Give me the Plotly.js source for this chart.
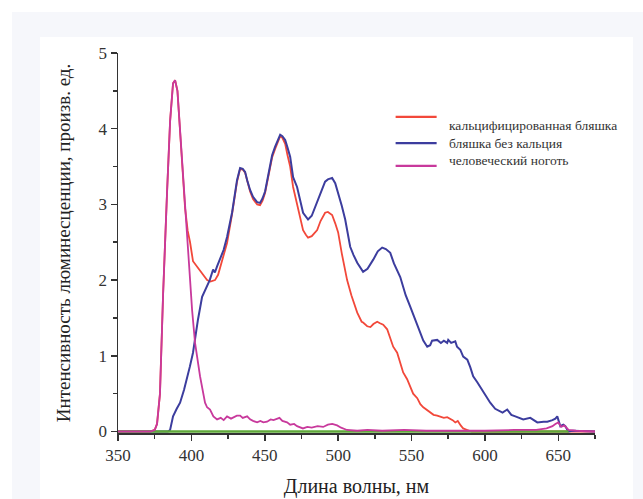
<!DOCTYPE html>
<html>
<head>
<meta charset="utf-8">
<script src="https://cdn.plot.ly/plotly-3.0.1.min.js"></script>
<style>
  html, body { margin: 0; padding: 0; background: #ffffff; }
  #frame { position: absolute; left: 12px; top: 12px; width: 631px; height: 487px; background: #f6f7fb; }
  #panel { position: absolute; left: 40px; top: 37px; width: 593px; height: 462px; background: #ffffff; }
  #chart { position: absolute; left: 0; top: 0; width: 643px; height: 499px; }
</style>
</head>
<body>
<div id="frame"></div>
<div id="panel"></div>
<div id="chart"></div>
<script>
// Luminescence spectra: wavelength (nm) and intensity (arb. units)
const calcWl = [350, 372, 375, 376.6, 378.6, 380.7, 383.4, 385.5, 387.5, 388.9, 390.5, 393.6, 395.7, 397.5, 399.1, 401.1, 403, 405.9, 408, 410.7, 413, 416.1, 418.2, 420.9, 424.3, 427.7, 431.1, 433.2, 435, 436.6, 438, 440, 442, 444.8, 446.8, 448.5, 450.2, 452, 453.6, 455, 457, 459, 460.5, 462, 463.9, 465.5, 467.3, 469.3, 472, 474, 476.1, 478, 479.5, 482, 485.7, 488, 491.1, 493, 495.9, 498, 500, 502.5, 506.1, 509, 513, 516, 517, 519.8, 522, 524, 526.6, 528.5, 530.7, 533.4, 537.5, 540.2, 544.3, 547, 551.1, 553.9, 556, 558, 560.7, 563, 565, 567.5, 569.5, 572, 574.3, 576.4, 578, 579.8, 581.5, 583.5, 585.2, 588, 591, 675];
const calcVal = [0, 0, 0.02, 0.1, 0.5, 1.8, 3.15, 4.1, 4.6, 4.64, 4.5, 3.6, 2.95, 2.65, 2.5, 2.25, 2.2, 2.14, 2.08, 2.0, 1.98, 2.0, 2.07, 2.27, 2.49, 2.87, 3.3, 3.47, 3.46, 3.42, 3.3, 3.17, 3.07, 3.0, 2.99, 3.05, 3.15, 3.33, 3.52, 3.62, 3.73, 3.84, 3.9, 3.88, 3.8, 3.65, 3.5, 3.23, 3.0, 2.8, 2.66, 2.6, 2.56, 2.58, 2.66, 2.78, 2.89, 2.9, 2.86, 2.75, 2.63, 2.35, 2.0, 1.8, 1.57, 1.45, 1.44, 1.39, 1.38, 1.42, 1.45, 1.43, 1.41, 1.35, 1.12, 1.04, 0.78, 0.69, 0.5, 0.44, 0.36, 0.32, 0.28, 0.24, 0.22, 0.21, 0.2, 0.18, 0.19, 0.17, 0.15, 0.12, 0.14, 0.08, 0.04, 0.02, 0, 0];

const plaqueWl = [350, 380, 384, 385.5, 387.5, 390, 392.3, 395, 397, 399, 401.1, 403, 404.5, 407.3, 410.7, 412.5, 414.8, 416, 417.5, 419.5, 422, 424.3, 427.7, 431.1, 433.2, 435, 436.6, 438, 440, 442, 444.8, 446.8, 448.5, 450.2, 452, 453.6, 455, 457, 459, 460.5, 462, 463.9, 465.5, 467.3, 469.3, 472, 476.1, 479.5, 482, 486.4, 489, 491.1, 493, 495.9, 498, 500, 502.5, 504.8, 508.2, 510.5, 513, 517, 520, 523.9, 527, 530, 532.5, 535.5, 538, 542.3, 546, 549.1, 552, 555.9, 558, 560.7, 562.7, 564, 567.5, 570, 572, 574.3, 575, 577, 579.8, 581, 583.2, 585.2, 588, 590, 592, 594.8, 596.8, 600, 603.6, 607, 610.4, 612, 615.2, 618, 620.7, 624, 626.1, 630.9, 633, 635.7, 640, 642.5, 646, 648, 649.3, 651.4, 653.4, 654.8, 656.8, 660, 675];
const plaqueVal = [0, 0, 0, 0.02, 0.2, 0.3, 0.38, 0.55, 0.69, 0.86, 1.04, 1.3, 1.48, 1.78, 1.94, 2.0, 2.14, 2.1, 2.18, 2.27, 2.4, 2.57, 2.89, 3.32, 3.48, 3.47, 3.43, 3.32, 3.19, 3.1, 3.03, 3.02, 3.08, 3.17, 3.35, 3.55, 3.65, 3.76, 3.86, 3.92, 3.9, 3.85, 3.75, 3.63, 3.36, 3.23, 2.89, 2.8, 2.85, 3.06, 3.2, 3.3, 3.33, 3.35, 3.28, 3.15, 2.98, 2.8, 2.44, 2.33, 2.23, 2.11, 2.15, 2.27, 2.38, 2.43, 2.41, 2.36, 2.22, 2.04, 1.8, 1.65, 1.5, 1.31, 1.2, 1.12, 1.14, 1.2, 1.21, 1.17, 1.2, 1.17, 1.21, 1.17, 1.19, 1.12, 1.08, 0.99, 0.95, 0.85, 0.73, 0.65, 0.59, 0.5, 0.38, 0.3, 0.26, 0.25, 0.29, 0.22, 0.2, 0.17, 0.16, 0.18, 0.15, 0.12, 0.13, 0.13, 0.15, 0.17, 0.2, 0.07, 0.09, 0.07, 0.0, 0.01, 0];

const nailWl = [350, 372, 375, 376.6, 378.6, 380.7, 383.4, 385.5, 387.5, 388.9, 390.5, 393.6, 395.7, 397.7, 400.5, 402.5, 405.9, 409.3, 410.7, 412.7, 415, 417.5, 420, 422, 424.3, 427, 431, 433.2, 435, 438, 440, 442, 444.8, 447, 449, 451.6, 454, 456, 458.4, 460, 462, 465.2, 467.3, 470, 472, 476, 479, 482, 486, 489.8, 493, 496, 499.3, 502, 506, 513, 520, 530, 545, 560, 580, 600, 620, 635, 642, 646, 648, 650, 652, 654, 657, 662, 675];
const nailVal = [0, 0, 0.02, 0.1, 0.5, 1.8, 3.15, 4.1, 4.6, 4.64, 4.5, 3.6, 2.93, 2.27, 1.6, 1.17, 0.73, 0.38, 0.32, 0.29, 0.2, 0.16, 0.18, 0.15, 0.2, 0.17, 0.21, 0.21, 0.18, 0.2, 0.16, 0.14, 0.12, 0.14, 0.12, 0.13, 0.16, 0.15, 0.17, 0.18, 0.14, 0.12, 0.09, 0.1, 0.07, 0.04, 0.06, 0.05, 0.07, 0.06, 0.09, 0.1, 0.08, 0.05, 0.02, 0.01, 0.02, 0.01, 0.02, 0.01, 0.01, 0.01, 0.02, 0.02, 0.04, 0.07, 0.1, 0.12, 0.06, 0.08, 0.02, 0.01, 0];

// zero baseline
const baseWl = [350, 657];
const baseVal = [0, 0];

const seriesNames = ['кальцифицированная бляшка', 'бляшка без кальция', 'человеческий ноготь'];
const seriesColors = ['#f2483a', '#3c3d9e', '#c8399c'];
const xTicks = [350, 400, 450, 500, 550, 600, 650];
const yTicks = [0, 1, 2, 3, 4, 5];

const serif = 'Liberation Serif';

const traces = [
  { x: calcWl, y: calcVal, name: seriesNames[0], type: 'scatter', mode: 'lines',
    line: { color: seriesColors[0], width: 1.8 } },
  { x: plaqueWl, y: plaqueVal, name: seriesNames[1], type: 'scatter', mode: 'lines',
    line: { color: seriesColors[1], width: 2 } },
  { x: baseWl, y: baseVal, name: 'baseline', type: 'scatter', mode: 'lines', showlegend: false,
    line: { color: '#5fa83a', width: 2.6 } },
  { x: nailWl, y: nailVal, name: seriesNames[2], type: 'scatter', mode: 'lines',
    line: { color: seriesColors[2], width: 1.8 } }
];

// Legend drawn as short line samples with labels to the right
const legendRowsY = [0.832, 0.763, 0.703];   // sample line heights (paper)
const legendTextY = [0.808, 0.763, 0.718];   // label heights (paper)
const shapes = seriesNames.map((n, i) => ({
  type: 'line', xref: 'paper', yref: 'paper',
  x0: 0.582, x1: 0.668, y0: legendRowsY[i], y1: legendRowsY[i],
  line: { color: seriesColors[i], width: 2.2 }
}));
const annotations = seriesNames.map((n, i) => ({
  xref: 'paper', yref: 'paper', x: 0.69, y: legendTextY[i],
  xanchor: 'left', yanchor: 'middle', showarrow: false, text: n,
  font: { family: serif, size: 13.5, color: '#333333' }
}));

const axisCommon = {
  showgrid: false, zeroline: false, showline: true,
  linecolor: '#333333', linewidth: 1.5, layer: 'below traces',
  ticks: 'outside', ticklen: 6, tickwidth: 1.5, tickcolor: '#333333',
  tickfont: { family: serif, size: 17, color: '#333333' }
};

const layout = {
  width: 643, height: 499,
  margin: { l: 118, r: 48, t: 53, b: 66 },
  paper_bgcolor: 'rgba(0,0,0,0)',
  plot_bgcolor: 'rgba(0,0,0,0)',
  showlegend: false,
  shapes: shapes,
  annotations: annotations,
  xaxis: Object.assign({}, axisCommon, {
    range: [350, 675], tickvals: xTicks,
    minor: { dtick: 25, ticks: 'outside', ticklen: 4, tickcolor: '#333333' },
    title: { text: 'Длина волны, нм', standoff: 15, font: { family: serif, size: 20, color: '#222222' } }
  }),
  yaxis: Object.assign({}, axisCommon, {
    range: [-0.02, 5], tickvals: yTicks,
    minor: { dtick: 0.5, ticks: 'outside', ticklen: 4, tickcolor: '#333333' },
    title: { text: 'Интенсивность люминесценции, произв. ед.', standoff: 23, font: { family: serif, size: 19, color: '#222222' } }
  })
};

Plotly.newPlot('chart', traces, layout, { displayModeBar: false, staticPlot: true });
</script>
</body>
</html>
